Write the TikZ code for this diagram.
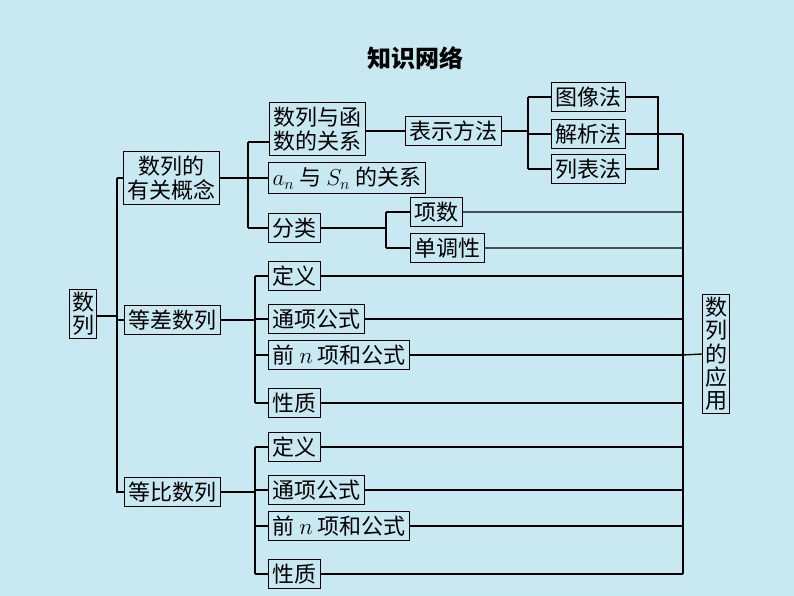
\documentclass[tikz,border=0pt]{standalone}
\usepackage{fontspec}
\newfontfamily\cjk{Noto Sans CJK SC}
\usepackage{tikz}
\usetikzlibrary{calc}
\definecolor{bgblue}{RGB}{200,232,242}
\begin{document}
\begin{tikzpicture}[x=0.75pt,y=-0.75pt,line width=1pt,
	box/.style={draw,thick,anchor=west,inner xsep=3pt,minimum height=21pt,font=\cjk\fontsize{16.5}{18}\selectfont},
	vbox/.style={draw,thick,align=center,inner sep=2pt,font=\cjk\fontsize{16.5}{17.5}\selectfont}]
	\fill[bgblue] (0,0) rectangle (794,596);
	\useasboundingbox (0,0) rectangle (794,596);
	\node[font=\cjk\bfseries\fontsize{18}{20}\selectfont] (title) at (415,58) {知识网络};
	% 左侧
	\node[vbox] (root) at (83,314) {数\\列};
	\node[box,align=center] (gn) at (123,178) {数列的\\有关概念};
	\node[box] (dc) at (124,320) {等差数列};
	\node[box] (db) at (124,492) {等比数列};
	\coordinate (t1) at (117,178);
	\coordinate (t2) at (117,492);
	\draw (root.east|-0,316) -- (117,316);
	\draw (t1) -- (gn.west) (t1) -- (t2) -- (db.west) (117,320) -- (dc.west);
	% 有关概念
	\node[box,align=center] (hs) at (269,129) {数列与函\\数的关系};
	\node[box] (as) at (268,178) {$a_n$ 与 $S_n$ 的关系};
	\node[box] (fl) at (268,228) {分类};
	\node[box] (bs) at (405,131) {表示方法};
	\node[box] (tx) at (551,97) {图像法};
	\node[box] (jx) at (551,134) {解析法};
	\node[box] (lb) at (551,169) {列表法};
	\node[box] (xs) at (410,212) {项数};
	\node[box] (dd) at (410,248) {单调性};
	\draw (gn.east) -- (248,178) (248,142) -- (248,228);
	\draw (248,142) -- (hs.west|-0,142) (248,178) -- (as.west) (248,228) -- (fl.west);
	\draw (hs.east|-0,131) -- (bs.west);
	\draw (bs.east) -- (528,131) (528,97) -- (528,169);
	\draw (528,97) -- (tx.west) (528,134) -- (jx.west) (528,169) -- (lb.west);
	\draw (tx.east) -- (658,97) -- (658,169) -- (lb.east) (jx.east) -- (683,134);
	\draw (fl.east) -- (386,228) (386,212) -- (386,248);
	\draw (386,212) -- (xs.west) (386,248) -- (dd.west);
	% 等差、等比
	\foreach \nm/\yo in {c/0,b/171}{
		\node[box] (dy\nm) at (268,276+\yo) {定义};
		\node[box] (tg\nm) at (268,319+\yo) {通项公式};
		\node[box] (qn\nm) at (268,355+\yo) {前 $n$ 项和公式};
		\node[box] (xz\nm) at (268,403+\yo) {性质};
		\draw (255,276+\yo) -- (255,403+\yo);
		\draw (255,276+\yo) -- (dy\nm.west) (255,319+\yo) -- (tg\nm.west)
			(255,355+\yo) -- (qn\nm.west) (255,403+\yo) -- (xz\nm.west);
		\draw (dy\nm.east) -- (683,276+\yo) (tg\nm.east) -- (683,319+\yo)
			(qn\nm.east) -- (683,355+\yo) (xz\nm.east) -- (683,403+\yo);
	}
	\draw (dc.east) -- (255,320) (db.east) -- (255,492);
	% 应用
	\node[vbox] (yy) at (716,354) {数\\列\\的\\应\\用};
	\draw (683,134) -- (683,574);
	\draw (xs.east) -- (683,212) (dd.east) -- (683,248) (683,355) -- (yy.west);
\end{tikzpicture}
\end{document}
